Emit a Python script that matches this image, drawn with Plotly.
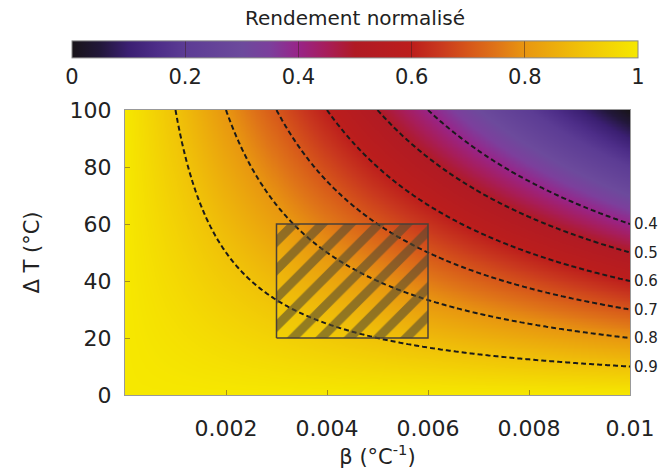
import numpy as np
import plotly.graph_objects as go

# Grid axes of the map
beta = np.linspace(0, 0.01, 201)          # °C^-1
delta_t = np.linspace(0, 100, 201)        # °C
# Normalised efficiency: eta = 1 - beta * dT
eta = 1 - np.outer(delta_t, beta)

contour_levels = [0.4, 0.5, 0.6, 0.7, 0.8, 0.9]
contour_labels = ["0.4", "0.5", "0.6", "0.7", "0.8", "0.9"]

rect_beta = [0.003, 0.006, 0.006, 0.003, 0.003]
rect_dt = [20, 20, 60, 60, 20]

x_ticks = [0.002, 0.004, 0.006, 0.008, 0.01]
x_ticktext = ["0.002", "0.004", "0.006", "0.008", "0.01"]
y_ticks = [0, 20, 40, 60, 80, 100]
cb_ticks = [0, 0.2, 0.4, 0.6, 0.8, 1]
cb_ticktext = ["0", "0.2", "0.4", "0.6", "0.8", "1"]

colorscale = [
    [0.00, "#181418"],
    [0.05, "#22173a"],
    [0.10, "#3b1f72"],
    [0.15, "#4d2d88"],
    [0.20, "#5c3c94"],
    [0.30, "#6c4a9c"],
    [0.35, "#7c3f9c"],
    [0.40, "#982488"],
    [0.45, "#a71d5a"],
    [0.50, "#b01a24"],
    [0.60, "#bc1e1c"],
    [0.65, "#c9381e"],
    [0.70, "#d6561a"],
    [0.75, "#df7418"],
    [0.80, "#e89610"],
    [0.90, "#f0c208"],
    [1.00, "#f6e800"],
]

fig = go.Figure()

fig.add_trace(go.Heatmap(
    x=beta, y=delta_t, z=eta, zmin=0, zmax=1,
    colorscale=colorscale, zsmooth="best",
    colorbar=dict(
        orientation="h", x=(355 - 125) / 505, xanchor="center",
        y=(395 - 62.5) / 285, yanchor="middle",
        lenmode="pixels", len=566, thickness=17,
        xpad=0, ypad=0,
        outlinecolor="#888", outlinewidth=1,
        tickvals=cb_ticks, ticktext=cb_ticktext, ticks="inside", ticklen=17,
        tickcolor="rgba(60,30,30,0.5)",
        tickfont=dict(family="DejaVu Sans", size=21, color="#222"),
        title=dict(text="Rendement normalisé", side="top",
                   font=dict(family="DejaVu Sans", size=20, color="#222")),
    ),
    hoverinfo="skip",
))

fig.add_trace(go.Contour(
    x=beta, y=delta_t, z=eta,
    contours=dict(start=contour_levels[0], end=contour_levels[-1], size=0.1,
                  coloring="none"),
    line=dict(color="#1a1a1a", width=2, dash="5px,3px"),
    showscale=False, hoverinfo="skip",
))

fig.add_trace(go.Scatter(
    x=rect_beta, y=rect_dt, mode="lines", fill="toself",
    fillcolor="rgba(0,0,0,0)",
    fillpattern=dict(shape="/", size=20, solidity=0.45,
                     fgcolor="#554a30", fgopacity=0.6, bgcolor="rgba(0,0,0,0)"),
    line=dict(color="#4a4038", width=1.5),
    showlegend=False, hoverinfo="skip",
))

for lvl, txt in zip(contour_levels, contour_labels):
    fig.add_annotation(x=1.0, xref="paper", y=(1 - lvl) / 0.01, yref="y",
                       text=txt, showarrow=False, xanchor="left", xshift=2,
                       font=dict(family="DejaVu Sans", size=15, color="#222"))

axis_font = dict(family="DejaVu Sans", size=22, color="#222")
title_font = dict(family="DejaVu Sans", size=21, color="#222")
fig.update_xaxes(
    range=[0, 0.01], tickvals=x_ticks, ticktext=x_ticktext,
    ticks="inside", ticklen=5, tickcolor="rgba(90,60,40,0.5)",
    showline=True, linecolor="#999", linewidth=1, mirror=True,
    showgrid=False, zeroline=False, tickfont=axis_font, ticklabelstandoff=14,
    title=dict(text="β (°C<sup>-1</sup>)", font=title_font, standoff=6),
)
fig.update_yaxes(
    range=[0, 100], tickvals=y_ticks,
    ticks="inside", ticklen=5, tickcolor="rgba(90,60,40,0.5)",
    showline=True, linecolor="#999", linewidth=1, mirror=True,
    showgrid=False, zeroline=False, tickfont=axis_font, ticklabelstandoff=8,
    title=dict(text="Δ T (°C)", font=title_font, standoff=24),
)

fig.update_layout(
    width=664, height=474,
    margin=dict(l=125, r=34, t=110, b=79, autoexpand=False),
    paper_bgcolor="white", plot_bgcolor="white",
    showlegend=False,
)

fig.write_html("out.html", config={"displayModeBar": False},
               post_script="document.body.style.margin='0';document.body.style.overflow='hidden';")
